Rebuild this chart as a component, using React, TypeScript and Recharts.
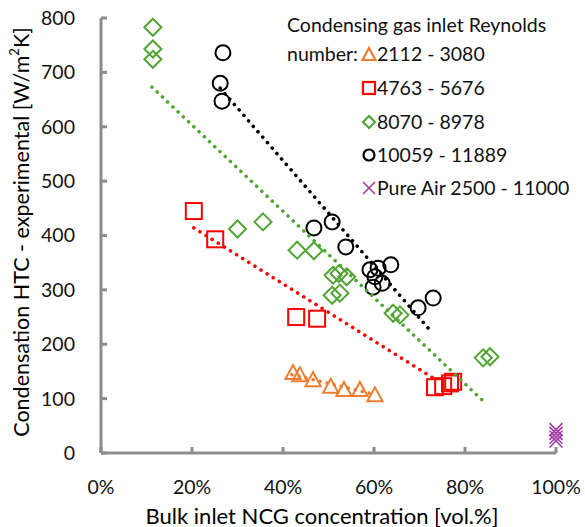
import React from 'react';
import { ScatterChart, Scatter, XAxis, YAxis } from 'recharts';

const FONT = 'Lato, "Liberation Sans", sans-serif';

// Series: Condensing gas inlet Reynolds number ranges
const triX = [42.2, 43.7, 46.6, 50.5, 53.4, 56.9, 60.2];
const triY = [147, 143, 134, 122, 116, 116, 106];
const sqX = [20.4, 25.1, 42.9, 47.5, 73.4, 75.2, 76.7, 77.4];
const sqY = [445, 393, 250, 247, 121, 123, 128, 131];
const diaX = [11.4, 11.4, 11.4, 30.0, 35.6, 43.1, 46.8, 51.0, 52.3, 54.0, 50.8, 52.5, 64.2, 65.7, 84.0, 85.5];
const diaY = [783, 743, 724, 412, 425, 373, 372, 327, 330, 324, 290, 294, 257, 254, 175, 177];
const cirX = [26.8, 26.2, 26.6, 46.8, 50.8, 53.8, 59.1, 60.9, 63.7, 60.2, 61.8, 59.8, 69.7, 73.0];
const cirY = [736, 680, 647, 414, 425, 379, 337, 340, 346, 324, 312, 305, 267, 285];
const airX = [100, 100, 100, 100];
const airY = [22, 29, 36, 43];

// Trend lines (end points)
const trendOrangeX = [42.0, 60.0];
const trendOrangeY = [144, 108];
const trendRedX = [20.4, 73.0];
const trendRedY = [414, 138];
const trendGreenX = [11.2, 84.2];
const trendGreenY = [673, 94];
const trendBlackX = [26.2, 72.7];
const trendBlackY = [671, 222];

const xTicks = [0, 20, 40, 60, 80, 100];
const yTicks = [0, 100, 200, 300, 400, 500, 600, 700, 800];

const legendTitle1 = 'Condensing gas inlet Reynolds';
const legendTitle2 = 'number:';
const legendLabels = ['2112 - 3080', '4763 - 5676', '8070 - 8978', '10059 - 11889', 'Pure Air 2500 - 11000'];

const ORANGE = '#ED7D31';
const RED = '#FF0000';
const GREEN = '#52A535';
const BLACK = '#000000';
const PURPLE = '#A23BA6';
const AXIS = '#8C8C8C';

const zip = (xs: number[], ys: number[]) => xs.map((x, i) => ({ x, y: ys[i] }));

const Tri = (p: any) => {
  const { cx, cy } = p;
  const s = 8;
  return <polygon points={`${cx},${cy - s} ${cx - s * 0.95},${cy + s * 0.75} ${cx + s * 0.95},${cy + s * 0.75}`} fill="none" stroke={ORANGE} strokeWidth={2} />;
};
const Sq = (p: any) => {
  const { cx, cy } = p;
  const s = 8;
  return <rect x={cx - s} y={cy - s} width={2 * s} height={2 * s} fill="none" stroke={RED} strokeWidth={2} />;
};
const Dia = (p: any) => {
  const { cx, cy } = p;
  const s = 8.5;
  return <polygon points={`${cx},${cy - s} ${cx + s},${cy} ${cx},${cy + s} ${cx - s},${cy}`} fill="none" stroke={GREEN} strokeWidth={2} />;
};
const Cir = (p: any) => {
  const { cx, cy } = p;
  return <circle cx={cx} cy={cy} r={7.5} fill="none" stroke={BLACK} strokeWidth={2} />;
};
const Xm = (p: any) => {
  const { cx, cy } = p;
  const s = 6.5;
  return (
    <g stroke={PURPLE} strokeWidth={1.6}>
      <line x1={cx - s} y1={cy - s} x2={cx + s} y2={cy + s} />
      <line x1={cx - s} y1={cy + s} x2={cx + s} y2={cy - s} />
    </g>
  );
};
const NoShape = () => <g />;

const trendLine = (color: string) => ({
  stroke: color,
  strokeWidth: 3.6,
  strokeDasharray: '0.01 7.2',
  strokeLinecap: 'round' as const,
  fill: 'none',
});

const LegendMarker = ({ i }: { i: number }) => {
  let el: any = null;
  if (i === 0) el = <polygon points="8,2 1.5,14 14.5,14" fill="none" stroke={ORANGE} strokeWidth={2.2} />;
  if (i === 1) el = <rect x={2} y={2} width={12} height={12} fill="none" stroke={RED} strokeWidth={2.2} />;
  if (i === 2) el = <polygon points="8,2 14,8 8,14 2,8" fill="none" stroke={GREEN} strokeWidth={2.2} />;
  if (i === 3) el = <circle cx={8} cy={8} r={5.5} fill="none" stroke={BLACK} strokeWidth={2.2} />;
  if (i === 4)
    el = (
      <g stroke={PURPLE} strokeWidth={1.6}>
        <line x1={2} y1={2} x2={14} y2={14} />
        <line x1={2} y1={14} x2={14} y2={2} />
      </g>
    );
  return (
    <svg width={16} height={16} style={{ display: 'block' }}>
      {el}
    </svg>
  );
};

const YLabel = () => (
  <text x={21} y={232} transform="rotate(-90 21 232)" textAnchor="middle" dominantBaseline="central" fontFamily={FONT} fontSize={21.5} fill="#000">
    Condensation HTC - experimental [W/m
    <tspan fontSize={13} dy={-7}>2</tspan>
    <tspan dy={7}>K]</tspan>
  </text>
);

const XLabel = () => (
  <text x={322} y={515} textAnchor="middle" dominantBaseline="central" fontFamily={FONT} fontSize={22} fill="#000">
    Bulk inlet NCG concentration [vol.%]
  </text>
);

const rowY = [54, 88, 122, 155, 188];

export default function App() {
  return (
    <div style={{ position: 'absolute', left: 0, top: 0, width: 585, height: 527, background: '#fff' }}>
      <ScatterChart width={585} height={527} margin={{ top: 18, right: 29, bottom: 0, left: 0 }}>
        <XAxis
          type="number"
          dataKey="x"
          domain={[0, 100]}
          ticks={xTicks}
          tickFormatter={(v: number) => `${v}%`}
          height={74}
          axisLine={{ stroke: AXIS, strokeWidth: 3 }}
          tickLine={{ stroke: AXIS, strokeWidth: 3 }}
          tickSize={-6}
          tickMargin={33}
          tick={{ fontFamily: FONT, fontSize: 19.5, fill: '#111' }}
          interval={0}
          label={XLabel}
        />
        <YAxis
          type="number"
          dataKey="y"
          domain={[0, 800]}
          ticks={yTicks}
          width={101}
          axisLine={{ stroke: AXIS, strokeWidth: 3 }}
          tickLine={{ stroke: AXIS, strokeWidth: 3 }}
          tickSize={-6}
          tickMargin={32}
          tick={{ fontFamily: FONT, fontSize: 19.5, fill: '#111' }}
          interval={0}
          label={YLabel}
        />
        <Scatter data={zip(triX, triY)} shape={Tri} isAnimationActive={false} />
        <Scatter data={zip(sqX, sqY)} shape={Sq} isAnimationActive={false} />
        <Scatter data={zip(diaX, diaY)} shape={Dia} isAnimationActive={false} />
        <Scatter data={zip(cirX, cirY)} shape={Cir} isAnimationActive={false} />
        <Scatter data={zip(airX, airY)} shape={Xm} isAnimationActive={false} />
        <Scatter data={zip(trendOrangeX, trendOrangeY)} shape={NoShape} line={trendLine(ORANGE)} isAnimationActive={false} />
        <Scatter data={zip(trendRedX, trendRedY)} shape={NoShape} line={trendLine(RED)} isAnimationActive={false} />
        <Scatter data={zip(trendGreenX, trendGreenY)} shape={NoShape} line={trendLine(GREEN)} isAnimationActive={false} />
        <Scatter data={zip(trendBlackX, trendBlackY)} shape={NoShape} line={trendLine(BLACK)} isAnimationActive={false} />
      </ScatterChart>
      <div style={{ position: 'absolute', left: 287, top: 0, width: 298, height: 210, fontFamily: FONT, fontSize: 19.5, color: '#111' }}>
        <div style={{ position: 'absolute', left: 0, top: 25, transform: 'translateY(-50%)', whiteSpace: 'nowrap', lineHeight: '24px' }}>{legendTitle1}</div>
        <div style={{ position: 'absolute', left: 0, top: rowY[0], transform: 'translateY(-50%)', whiteSpace: 'nowrap', lineHeight: '24px' }}>{legendTitle2}</div>
        {legendLabels.map((lab, i) => (
          <React.Fragment key={lab}>
            <div style={{ position: 'absolute', left: 74, top: rowY[i] - 8 }}>
              <LegendMarker i={i} />
            </div>
            <div style={{ position: 'absolute', left: 90, top: rowY[i], transform: 'translateY(-50%)', whiteSpace: 'nowrap', lineHeight: '24px' }}>{lab}</div>
          </React.Fragment>
        ))}
      </div>
    </div>
  );
}
